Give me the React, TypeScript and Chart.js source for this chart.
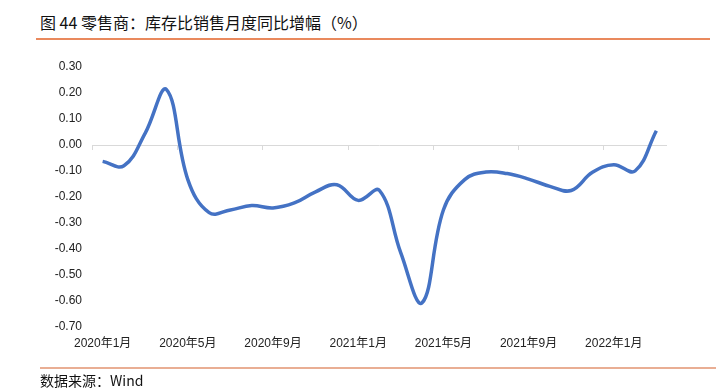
import React, { useEffect, useRef } from "react";
import { Chart, registerables } from "chart.js";

Chart.register(...registerables);

const months: string[] = [
  "2020年1月", "2020年2月", "2020年3月", "2020年4月", "2020年5月", "2020年6月",
  "2020年7月", "2020年8月", "2020年9月", "2020年10月", "2020年11月", "2020年12月",
  "2021年1月", "2021年2月", "2021年3月", "2021年4月", "2021年5月", "2021年6月",
  "2021年7月", "2021年8月", "2021年9月", "2021年10月", "2021年11月", "2021年12月",
  "2022年1月", "2022年2月", "2022年3月",
];

const ratioYoY: number[] = [
  -0.063, -0.08, 0.046, 0.213, -0.133, -0.26,
  -0.25, -0.233, -0.242, -0.223, -0.18, -0.153,
  -0.213, -0.175, -0.415, -0.607, -0.25, -0.133,
  -0.104, -0.11, -0.131, -0.159, -0.175, -0.105,
  -0.076, -0.1, 0.055,
];

const yMin = -0.7;
const yMax = 0.3;
const yStep = 0.1;
const labelEvery = 4;

const title = "图 44 零售商：库存比销售月度同比增幅（%）";
const source = "数据来源：Wind";

const zeroAxisPlugin = {
  id: "zeroAxis",
  beforeDatasetsDraw(chart: any) {
    const { ctx, chartArea, scales } = chart;
    const x = scales.x;
    const y = scales.y;
    const y0 = y.getPixelForValue(0);
    ctx.save();
    ctx.strokeStyle = "#d9d9d9";
    ctx.lineWidth = 1;
    ctx.beginPath();
    ctx.moveTo(chartArea.left, y0 + 0.5);
    ctx.lineTo(chartArea.right, y0 + 0.5);
    const half = (x.getPixelForValue(1) - x.getPixelForValue(0)) / 2;
    for (let i = 0; i < months.length; i += labelEvery) {
      const px = Math.round(x.getPixelForValue(i) - half) + 0.5;
      ctx.moveTo(px, y0);
      ctx.lineTo(px, y0 + 5);
    }
    ctx.stroke();
    ctx.restore();
  },
};

export default function App() {
  const ref = useRef<HTMLCanvasElement>(null);
  useEffect(() => {
    if (!ref.current) return;
    const chart = new Chart(ref.current, {
      type: "line",
      data: {
        labels: months,
        datasets: [
          {
            data: ratioYoY,
            borderColor: "#4472C4",
            borderWidth: 3.5,
            pointRadius: 0,
            tension: 0.4,
            fill: false,
          },
        ],
      },
      options: {
        animation: false,
        responsive: false,
        layout: { padding: { top: 67, right: 61, left: 0, bottom: 0 } },
        plugins: { legend: { display: false }, tooltip: { enabled: false } },
        scales: {
          x: {
            offset: true,
            grid: { display: false, drawTicks: false },
            border: { display: false },
            afterFit: (s: any) => { s.height = 65; },
            ticks: {
              autoSkip: false,
              maxRotation: 0,
              padding: 9,
              color: "#222",
              font: { family: "'Liberation Sans', 'Noto Sans CJK SC'", size: 12 },
              callback: (_v: any, i: number) => (i % labelEvery === 0 ? months[i] : ""),
            },
          },
          y: {
            min: yMin,
            max: yMax,
            grid: { display: false, drawTicks: false },
            border: { display: false },
            afterFit: (s: any) => { s.width = 92; },
            ticks: {
              stepSize: yStep,
              padding: 10,
              color: "#222",
              font: { family: "'Liberation Sans', 'Noto Sans CJK SC'", size: 12 },
              callback: (v: any) => Number(v).toFixed(2),
            },
          },
        },
      },
      plugins: [zeroAxisPlugin],
    });
    return () => chart.destroy();
  }, []);

  return (
    <div style={{ position: "absolute", left: 0, top: 0, width: 728, height: 392, background: "#fff" }}>
      <div
        style={{
          position: "absolute", left: 40, top: 12, fontSize: 16, lineHeight: "20px",
          fontFamily: "'Noto Sans CJK SC', sans-serif", color: "#111", whiteSpace: "nowrap",
        }}
      >
        {title}
      </div>
      <div style={{ position: "absolute", left: 36, top: 38, width: 674, height: 1.5, background: "#E9895D" }} />
      <canvas ref={ref} width={728} height={392} style={{ position: "absolute", left: 0, top: 0 }} />
      <div style={{ position: "absolute", left: 40, top: 367, width: 676, height: 1.5, background: "#E9AE94" }} />
      <div
        style={{
          position: "absolute", left: 40, top: 371, fontSize: 14, lineHeight: "18px",
          fontFamily: "'Noto Sans CJK SC', sans-serif", color: "#111", whiteSpace: "nowrap",
        }}
      >
        {source}
      </div>
    </div>
  );
}
